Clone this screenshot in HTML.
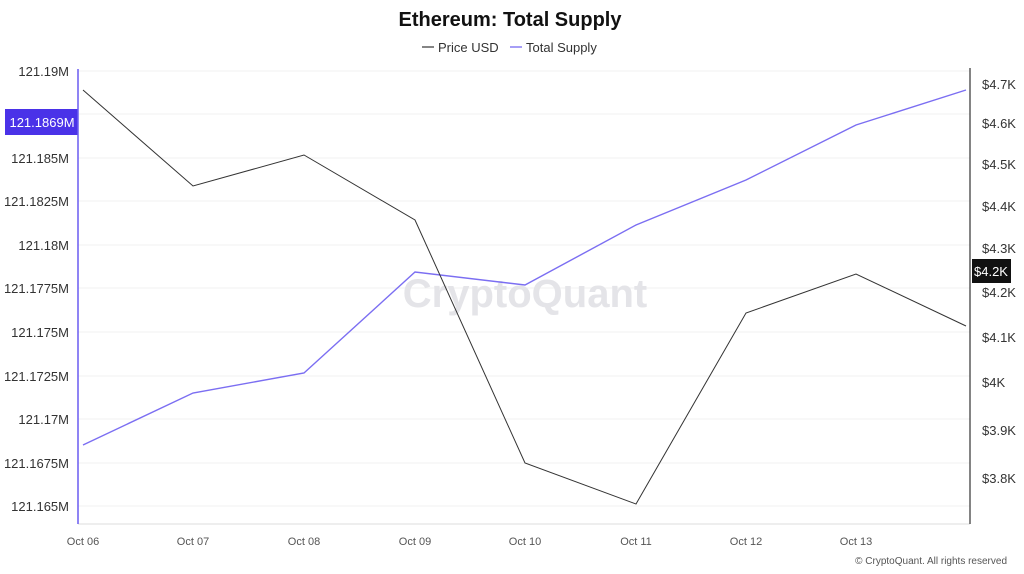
<!DOCTYPE html>
<html><head><meta charset="utf-8"><style>
body{margin:0;background:#fff;}
svg{display:block;font-family:"Liberation Sans",sans-serif;}
</style></head><body>
<svg width="1024" height="574" xmlns="http://www.w3.org/2000/svg">
<rect width="1024" height="574" fill="#fff"/>
<text x="510" y="26" text-anchor="middle" font-size="20" font-weight="bold" fill="#111">Ethereum: Total Supply</text>
<line x1="422" y1="47" x2="434" y2="47" stroke="#333" stroke-width="1.2"/>
<text x="438" y="52" font-size="13" fill="#333">Price USD</text>
<line x1="510" y1="47" x2="522" y2="47" stroke="#6a5cf0" stroke-width="1.2"/>
<text x="526" y="52" font-size="13" fill="#333">Total Supply</text>
<g stroke="#f0f0f0" stroke-width="1">
<line x1="78" y1="71" x2="970" y2="71"/><line x1="78" y1="114" x2="970" y2="114"/>
<line x1="78" y1="158" x2="970" y2="158"/><line x1="78" y1="201" x2="970" y2="201"/>
<line x1="78" y1="245" x2="970" y2="245"/><line x1="78" y1="288" x2="970" y2="288"/>
<line x1="78" y1="332" x2="970" y2="332"/><line x1="78" y1="376" x2="970" y2="376"/>
<line x1="78" y1="419" x2="970" y2="419"/><line x1="78" y1="463" x2="970" y2="463"/>
<line x1="78" y1="506" x2="970" y2="506"/>
</g>
<line x1="78" y1="524" x2="970" y2="524" stroke="#ddd"/>
<text x="525" y="307" text-anchor="middle" font-size="40" fill="#e4e4e8" font-weight="bold">CryptoQuant</text>
<g font-size="13" fill="#333" text-anchor="end">
<text x="69" y="76">121.19M</text><text x="69" y="119">121.1875M</text>
<text x="69" y="163">121.185M</text><text x="69" y="206">121.1825M</text>
<text x="69" y="250">121.18M</text><text x="69" y="293">121.1775M</text>
<text x="69" y="337">121.175M</text><text x="69" y="381">121.1725M</text>
<text x="69" y="424">121.17M</text><text x="69" y="468">121.1675M</text>
<text x="69" y="511">121.165M</text>
</g>
<rect x="5" y="109" width="73" height="26" fill="#4a32e8"/>
<text x="42" y="127" text-anchor="middle" font-size="13" fill="#fff">121.1869M</text>
<g font-size="13" fill="#333">
<text x="982" y="89">$4.7K</text><text x="982" y="128">$4.6K</text>
<text x="982" y="169">$4.5K</text><text x="982" y="211">$4.4K</text>
<text x="982" y="253">$4.3K</text><text x="982" y="297">$4.2K</text>
<text x="982" y="342">$4.1K</text><text x="982" y="387">$4K</text>
<text x="982" y="435">$3.9K</text><text x="982" y="483">$3.8K</text>
</g>
<rect x="972" y="259" width="39" height="24" fill="#111"/>
<text x="991" y="276" text-anchor="middle" font-size="13" fill="#fff">$4.2K</text>
<line x1="78" y1="69" x2="78" y2="524" stroke="#6a5cf0" stroke-width="1.5"/>
<line x1="970" y1="68" x2="970" y2="524" stroke="#333" stroke-width="1.2"/>
<g font-size="11" fill="#555" text-anchor="middle">
<text x="83" y="545">Oct 06</text><text x="193" y="545">Oct 07</text>
<text x="304" y="545">Oct 08</text><text x="415" y="545">Oct 09</text>
<text x="525" y="545">Oct 10</text><text x="636" y="545">Oct 11</text>
<text x="746" y="545">Oct 12</text><text x="856" y="545">Oct 13</text>
</g>
<text x="1007" y="564" text-anchor="end" font-size="10" fill="#555">© CryptoQuant. All rights reserved</text>
<polyline fill="none" stroke="#7b6ef2" stroke-width="1.4" points="83,445 193,393 304,373 415,272 525,285 636,225 746,180 856,125 966,90"/>
<polyline fill="none" stroke="#333" stroke-width="1" points="83,90 193,186 304,155 415,220 525,463 636,504 746,313 856,274 966,326"/>
</svg>
</body></html>
